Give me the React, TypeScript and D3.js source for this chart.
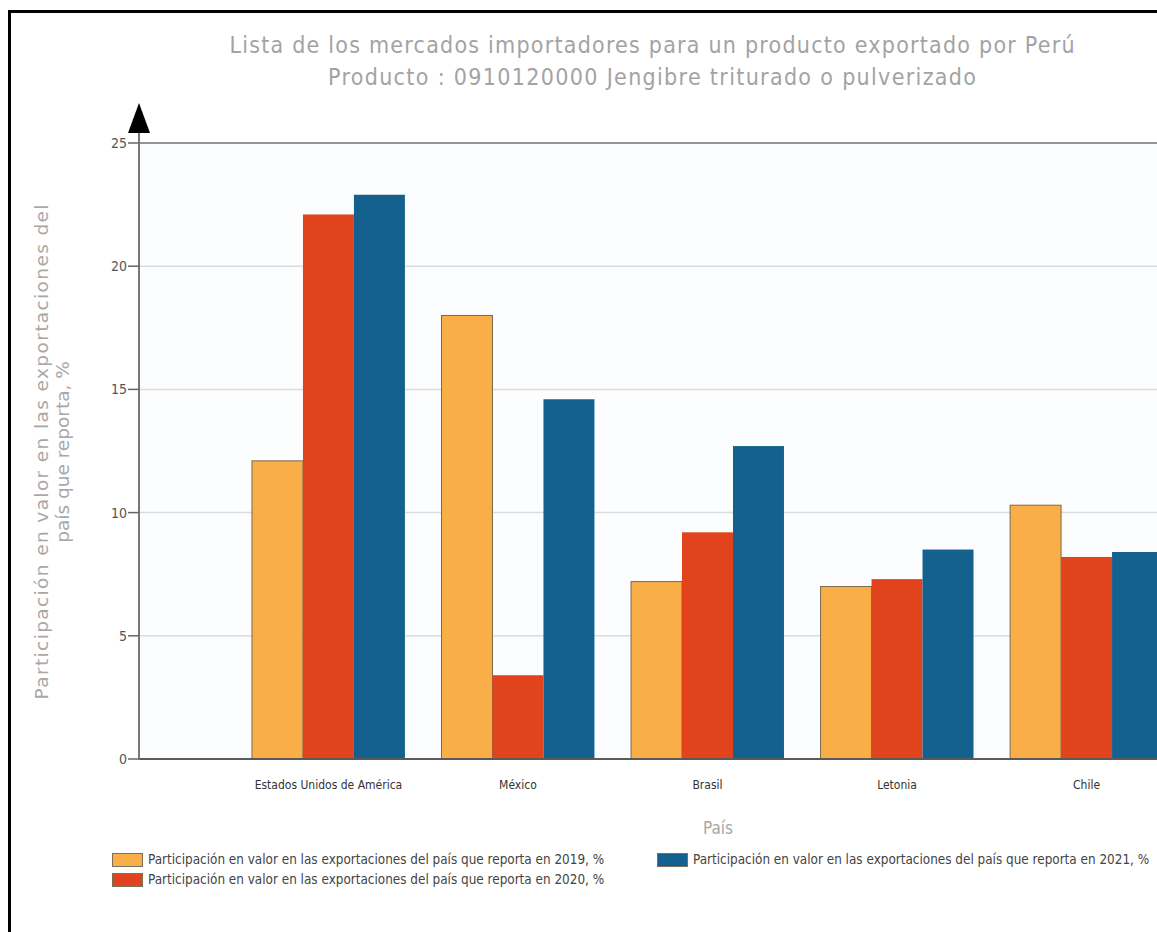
import React from 'react'
import * as d3 from 'd3'

const paises = ['Estados Unidos de América', 'México', 'Brasil', 'Letonia', 'Chile']
const series = ['2019', '2020', '2021']
const valores2019 = [12.1, 18.0, 7.2, 7.0, 10.3]
const valores2020 = [22.1, 3.4, 9.2, 7.3, 8.2]
const valores2021 = [22.9, 14.6, 12.7, 8.5, 8.4]
const yTicks = [0, 5, 10, 15, 20, 25]
const leyenda = [
	'Participación en valor en las exportaciones del país que reporta en 2019, %',
	'Participación en valor en las exportaciones del país que reporta en 2020, %',
	'Participación en valor en las exportaciones del país que reporta en 2021, %',
]

const colores = ['#f9ae48', '#e1441d', '#14608f']
const narrow = '"DejaVu Sans Condensed", "Liberation Sans", sans-serif'

const App = () => {
	const width = 1157,
		height = 932
	const left = 139,
		top = 143,
		bottom = 759

	const y = d3.scaleLinear().domain([0, 25]).range([bottom, top])

	// the plot runs past the right edge of the picture, as in the original
	const x = d3
		.scaleBand()
		.domain(paises)
		.range([left, 1276])
		.paddingInner(0.193)
		.paddingOuter(0.596)
	const xSerie = d3.scaleBand().domain(series).range([0, x.bandwidth()])

	const datos = paises.map((p, i) => ({
		pais: p,
		valores: [valores2019[i], valores2020[i], valores2021[i]],
	}))

	return (
		<div style={{ position: 'absolute', left: 0, top: 0 }}>
			<svg width={width} height={height} style={{ display: 'block', background: '#fff' }}>
				{/* marco */}
				<path d={`M9.5,${height + 5}V11.5H${width + 5}`} fill="none" stroke="#000" strokeWidth={3} />

				{/* titulo */}
				<g fontFamily={narrow} fontSize={23} fill="#a3a3a3" textAnchor="middle">
					<text x={652} y={53} textLength={845} lengthAdjust="spacing">
						Lista de los mercados importadores para un producto exportado por Perú
					</text>
					<text x={652} y={85} textLength={648} lengthAdjust="spacing">
						Producto : 0910120000 Jengibre triturado o pulverizado
					</text>
				</g>

				{/* rejilla */}
				<rect x={left} y={top} width={width - left} height={bottom - top} fill="#fcfdfe" />
				{yTicks.slice(1, -1).map((t) => (
					<line key={t} x1={left} x2={width} y1={y(t)} y2={y(t)} stroke="#dcdcdc" strokeWidth={1.5} />
				))}
				<line x1={left} x2={width} y1={y(25)} y2={y(25)} stroke="#8f969a" strokeWidth={2} />

				{/* barras */}
				{datos.map((d) => (
					<g key={d.pais} transform={`translate(${x(d.pais)},0)`}>
						{d.valores.map((v, j) => (
							<rect
								key={series[j]}
								x={xSerie(series[j])}
								y={y(v)}
								width={xSerie.bandwidth()}
								height={y(0) - y(v)}
								fill={colores[j]}
								stroke={j === 0 ? '#7d6a4e' : 'none'}
								strokeWidth={1}
							/>
						))}
					</g>
				))}

				{/* eje y */}
				<line x1={left} x2={width} y1={bottom} y2={bottom} stroke="#5a5a5a" strokeWidth={2} />
				<line x1={left} x2={left} y1={bottom + 1} y2={132} stroke="#777" strokeWidth={2} />
				<path d={`M${left},103L${left - 11},133H${left + 11}Z`} fill="#000" />
				{yTicks.map((t) => (
					<g key={t} transform={`translate(0,${y(t)})`}>
						<line x1={left - 11} x2={left} stroke="#666" strokeWidth={1.5} />
						<text x={left - 12} dy="0.35em" textAnchor="end" fontFamily={narrow} fontSize={14} fill="#555">
							{t}
						</text>
					</g>
				))}
				<g
					transform="translate(52,452) rotate(-90)"
					fontFamily='"DejaVu Sans", sans-serif'
					fontSize={18.5}
					fill="#a8a8a8"
					textAnchor="middle"
				>
					<text y={-4} textLength={495} lengthAdjust="spacing">
						Participación en valor en las exportaciones del
					</text>
					<text y={17}>país que reporta, %</text>
				</g>

				{/* eje x */}
				{paises.map((p) => (
					<text
						key={p}
						x={x(p)! + x.bandwidth() / 2}
						y={789}
						textAnchor="middle"
						fontFamily={narrow}
						fontSize={12}
						fill="#333"
					>
						{p}
					</text>
				))}
				<text x={718} y={834} textAnchor="middle" fontFamily={narrow} fontSize={17} fill="#a8a8a8">
					País
				</text>

				{/* leyenda */}
				{leyenda.map((l, i) => {
					const lx = i === 2 ? 657 : 112
					const ly = i === 1 ? 873 : 853
					return (
						<g key={l} transform={`translate(${lx},${ly})`}>
							<rect x={0.5} y={0.5} width={30} height={13} fill={colores[i]} stroke="#7a6e5e" strokeWidth={1} />
							<text x={36} y={11} fontFamily={narrow} fontSize={13.4} fill="#444">
								{l}
							</text>
						</g>
					)
				})}
			</svg>
		</div>
	)
}

export default App
